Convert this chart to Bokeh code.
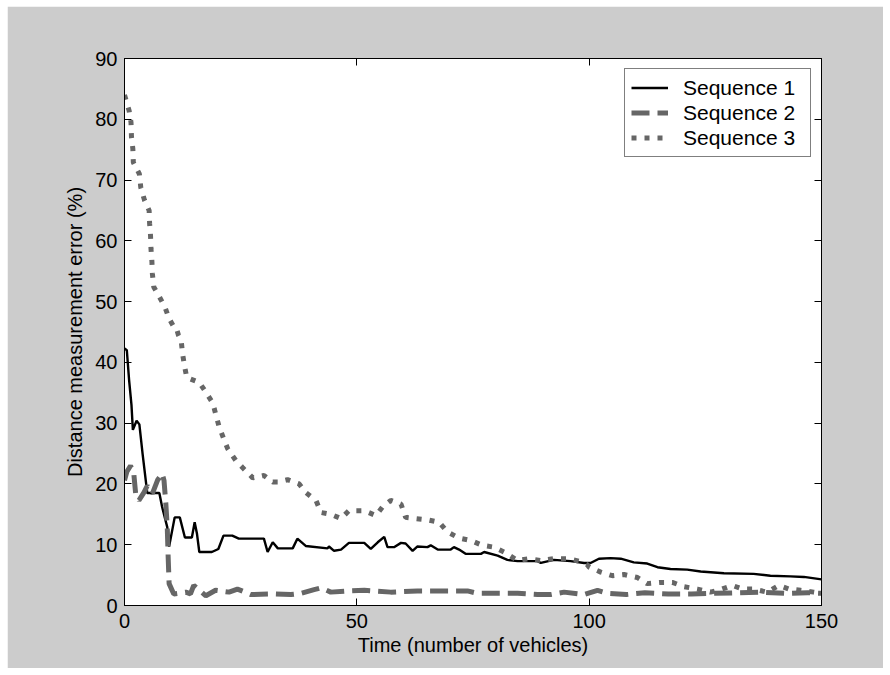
from bokeh.plotting import figure
from bokeh.models import LinearAxis, FixedTicker, Range1d, Legend, LegendItem
from bokeh.embed import file_html
from bokeh.resources import INLINE

# ---- data ----
seq1_x = [0, 0.5, 1.0, 1.5, 1.8, 2.6, 3.2, 3.9, 4.9, 7.5, 8.1, 9.2, 9.6, 10.8, 11.9, 13.0, 14.5, 15.1, 15.6,
          16.1, 18.8, 20.2, 21.3, 23.2, 24.6, 27.2, 28.6, 30.0, 30.8, 31.9, 33.0, 36.2, 37.2, 39.0, 43.7,
          44.0, 45.1, 46.6, 48.3, 51.6, 53.0, 54.5, 55.9, 56.6, 58.0, 59.5, 60.5, 62.0, 63.0, 65.2, 65.9,
          67.4, 70.2, 70.9, 72.0, 73.4, 76.7, 77.4, 80.3, 82.4, 84.6, 88.9, 89.6, 92.4, 96.0, 98.9, 100.3,
          102.1, 104.6, 106.8, 109.6, 112.5, 114.7, 117.5, 121.1, 124.0, 129.0, 135.4, 139.0, 143.3,
          146.2, 150]
seq1_y = [42.3, 42.0, 37.0, 33.0, 28.9, 30.4, 29.8, 24.9, 18.5, 18.5, 16.2, 12.9, 9.7, 14.5, 14.5, 11.2,
          11.2, 13.7, 11.8, 8.8, 8.8, 9.3, 11.5, 11.5, 11.0, 11.0, 11.0, 11.0, 8.8, 10.4, 9.4, 9.4, 11.0,
          9.8, 9.4, 9.7, 9.0, 9.2, 10.3, 10.3, 9.3, 10.4, 11.3, 9.6, 9.6, 10.3, 10.2, 9.0, 9.7, 9.6, 9.9,
          9.2, 9.2, 9.6, 9.2, 8.5, 8.5, 8.8, 8.2, 7.5, 7.3, 7.3, 7.0, 7.5, 7.3, 7.0, 7.0, 7.7, 7.8, 7.7,
          7.1, 6.9, 6.3, 6.0, 5.9, 5.6, 5.3, 5.2, 4.9, 4.8, 4.7, 4.3]

seq2_x = [0, 0.5, 1.3, 2.0, 2.4, 3.1, 4.2, 4.9, 6.0, 7.1, 8.1, 8.5, 8.9, 9.2, 9.4, 9.6, 10.6, 13.2, 14.2,
          14.9, 17.5, 19.6, 22.5, 24.3, 27.2, 32.2, 35.8, 38.0, 40.8, 42.3, 44.4, 48.0, 51.6, 57.3, 63.0,
          69.5, 73.8, 76.0, 84.6, 88.9, 91.7, 94.6, 98.9, 101.8, 104, 108, 112, 117, 122, 127, 132, 137,
          142, 147, 150]
seq2_y = [20.6, 22.0, 23.0, 21.7, 18.4, 17.3, 18.6, 19.7, 18.4, 20.6, 21.7, 20.6, 16.7, 12.9, 7.9, 3.6,
          1.9, 2.2, 1.9, 3.3, 1.6, 2.5, 2.2, 2.7, 1.8, 1.9, 1.8, 2.0, 2.6, 2.9, 2.2, 2.4, 2.5, 2.2, 2.4,
          2.4, 2.4, 2.0, 2.0, 1.8, 1.8, 2.2, 1.8, 2.5, 2.0, 1.8, 2.1, 1.9, 1.9, 2.0, 2.1, 2.2, 2.0, 2.1, 2.0]

seq3_x = [0, 1.0, 1.4, 1.5, 1.8, 1.9, 3.2, 3.5, 4.3, 5.3, 5.4, 5.6, 5.7, 5.9, 6.0, 6.3, 7.5, 8.7, 9.6,
          10.5, 11.1, 11.6, 12.2, 12.5, 12.9, 13.4, 16.1, 17.5, 19.0, 19.7, 20.4, 22.2, 24.0, 25.4, 27.6,
          30.0, 31.9, 33.0, 35.1, 37.6, 39.0, 41.2, 42.3, 44.4, 46.6, 48.3, 51.6, 54.1, 55.5, 57.3, 59.5,
          60.5, 62.7, 65.2, 67.7, 69.5, 72.0, 74.5, 77.0, 79.5, 81.7, 84.6, 87.0, 89.6, 92.4, 95.3, 97.8,
          99.6, 100.0, 102.5, 105.0, 107.5, 110.4, 112.5, 115.4, 117.9, 120.4, 123.3, 126.1, 128.2, 130.8,
          133.0, 135.4, 138.3, 140.8, 143.0, 145.5, 148.3, 150]
seq3_y = [84.0, 81.4, 79.5, 77.1, 75.1, 72.9, 71.0, 68.8, 66.7, 65.0, 62.9, 60.9, 58.7, 56.6, 54.6, 52.4,
          50.8, 49.1, 47.2, 46.0, 45.8, 44.5, 43.6, 41.4, 39.5, 37.5, 36.7, 35.1, 33.3, 31.3, 29.3, 25.8,
          23.8, 22.7, 21.0, 21.4, 20.3, 20.3, 20.7, 20.0, 18.6, 17.3, 15.3, 15.0, 14.3, 15.6, 15.6, 14.8,
          16.2, 17.3, 16.7, 14.5, 14.3, 14.1, 13.7, 12.1, 11.1, 10.7, 9.9, 9.6, 8.8, 7.4, 7.7, 7.4, 7.7,
          7.7, 7.3, 6.7, 6.3, 5.5, 4.9, 5.1, 4.6, 3.6, 3.8, 3.8, 3.1, 2.7, 2.2, 2.6, 3.3, 2.7, 2.7, 2.2,
          3.3, 2.7, 2.5, 2.2, 2.0]

x_ticks = [0, 50, 100, 150]
y_ticks = [0, 10, 20, 30, 40, 50, 60, 70, 80, 90]
series_names = ["Sequence 1", "Sequence 2", "Sequence 3"]

FONT = "Liberation Sans"
FS = "20px"
GRAY = "#666666"
BG = "#cccccc"

p = figure(width=876, height=662, output_backend="svg", toolbar_location=None,
           x_range=Range1d(0, 150), y_range=Range1d(0, 90),
           x_axis_label="Time (number of vehicles)",
           y_axis_label="Distance measurement error (%)",
           min_border_left=117, min_border_right=62, min_border_top=52, min_border_bottom=63)
p.margin = (6, 0, 0, 7)
p.border_fill_color = BG
p.background_fill_color = "white"
p.outline_line_color = "black"
p.outline_line_width = 1
p.grid.visible = False

r1 = p.line(seq1_x, seq1_y, line_color="black", line_width=2.4)
r2 = p.line(seq2_x, seq2_y, line_color=GRAY, line_width=5, line_dash="18 8")
r3 = p.line(seq3_x, seq3_y, line_color=GRAY, line_width=5, line_dash="5 8")

def style_axis(ax, labels=True):
    ax.major_tick_in = 7
    ax.major_tick_out = 0
    ax.minor_tick_in = 0
    ax.minor_tick_out = 0
    ax.axis_line_color = "black"
    ax.major_tick_line_color = "black"
    ax.major_label_text_font = FONT
    ax.major_label_text_font_size = FS
    ax.major_label_text_color = "black"
    ax.axis_label_text_font = FONT
    ax.axis_label_text_font_size = FS
    ax.axis_label_text_font_style = "normal"
    ax.axis_label_text_color = "black"
    if not labels:
        ax.major_label_text_font_size = "0px"
        ax.major_label_text_alpha = 0

xa = p.xaxis[0]
ya = p.yaxis[0]
xa.ticker = FixedTicker(ticks=x_ticks)
ya.ticker = FixedTicker(ticks=y_ticks)
style_axis(xa)
style_axis(ya)
xa.major_label_standoff = 8
xa.axis_label_standoff = 3
ya.major_label_standoff = 7
ya.axis_label_standoff = 6

top = LinearAxis(ticker=FixedTicker(ticks=x_ticks))
right = LinearAxis(ticker=FixedTicker(ticks=y_ticks))
style_axis(top, labels=False)
style_axis(right, labels=False)
top.major_label_standoff = 0
right.major_label_standoff = 0
p.add_layout(top, "above")
p.add_layout(right, "right")

legend = Legend(items=[LegendItem(label=series_names[0], renderers=[r1]),
                       LegendItem(label=series_names[1], renderers=[r2]),
                       LegendItem(label=series_names[2], renderers=[r3])],
                location="top_right")
legend.margin = 10
legend.padding = 6
legend.spacing = 0
legend.label_height = 25
legend.glyph_height = 25
legend.glyph_width = 37
legend.label_standoff = 15
legend.label_width = 121
legend.label_text_font = FONT
legend.label_text_font_size = "21px"
legend.label_text_color = "black"
legend.border_line_color = "black"
legend.border_line_width = 1
legend.background_fill_color = "white"
legend.background_fill_alpha = 1
p.add_layout(legend, "center")

open("out.html", "w").write(file_html(p, INLINE))
